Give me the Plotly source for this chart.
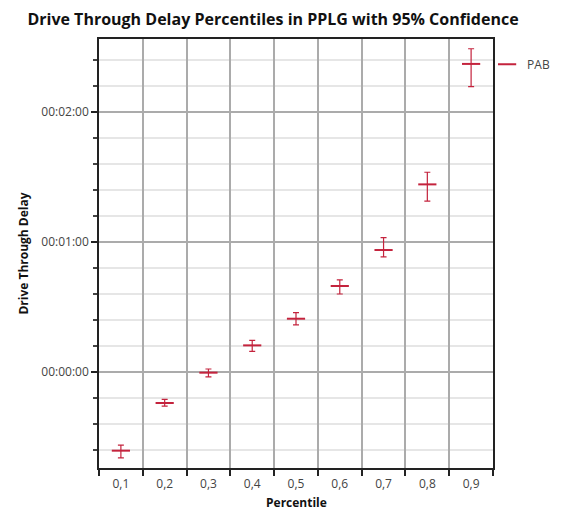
import plotly.graph_objects as go

categories = ["0,1", "0,2", "0,3", "0,4", "0,5", "0,6", "0,7", "0,8", "0,9"]
# delay in seconds (relative)
values = [-36.3, -14.3, -0.3, 12.3, 24.6, 39.7, 56.3, 86.6, 142.2]
upper = [-33.7, -12.6, 1.4, 14.6, 27.4, 42.5, 62.0, 92.2, 149.2]
lower = [-39.6, -15.7, -2.2, 9.5, 21.8, 36.0, 53.1, 78.9, 131.7]
y_tickvals = [0, 60, 120]
y_ticktext = ["00:00:00", "00:01:00", "00:02:00"]

err_plus = [u - v for u, v in zip(upper, values)]
err_minus = [v - l for v, l in zip(values, lower)]

color = "#C4233D"
fig = go.Figure()
fig.add_trace(go.Scatter(
    x=categories, y=values, mode="markers", name="PAB",
    marker=dict(symbol="line-ew", size=13, line=dict(color=color, width=2), color=color),
    error_y=dict(type="data", array=err_plus, arrayminus=err_minus, symmetric=False,
                 color=color, thickness=1.2, width=3),
))

font_family = "Open Sans, Noto Sans, sans-serif"
plot_h = 510 - 39 - 42
fig.update_layout(
    width=566, height=510,
    margin=dict(l=99, r=73, t=39, b=42, autoexpand=False),
    paper_bgcolor="white", plot_bgcolor="white",
    title=dict(text="<b>Drive Through Delay Percentiles in PPLG with 95% Confidence</b>",
               x=273/566, xanchor="center", y=1 - 19/510, yanchor="middle",
               font=dict(family=font_family, size=16, color="#111")),
    font=dict(family=font_family, size=12, color="#444"),
    showlegend=True,
    legend=dict(x=0.985, y=0.975, xanchor="left", yanchor="top", itemwidth=30,
                font=dict(size=12, color="#444"), bgcolor="rgba(0,0,0,0)"),
    xaxis=dict(
        type="category", range=[-0.5, 8.5], tickson="boundaries",
        showgrid=True, gridcolor="#ababab", gridwidth=1.5,
        showline=True, linecolor="#222", linewidth=1.5, mirror=True,
        ticks="outside", ticklen=6, tickcolor="#222", tickwidth=1.5,
        tickfont=dict(size=12, color="#444"), ticklabelstandoff=4,
    ),
    yaxis=dict(
        range=[-44.3, 153.7], tickvals=y_tickvals, ticktext=y_ticktext,
        showgrid=True, gridcolor="#ababab", gridwidth=1.5, zeroline=False,
        showline=True, linecolor="#222", linewidth=1.5, mirror=True,
        ticks="outside", ticklen=6, tickcolor="#222", tickwidth=2,
        tickfont=dict(size=12, color="#444"),
        minor=dict(dtick=12, tick0=0, ticks="outside", ticklen=4, tickcolor="#444",
                   showgrid=True, gridcolor="#e6e6e6", gridwidth=1.5),
        title=dict(text="<b>Drive Through Delay</b>", font=dict(size=12, color="#111"), standoff=10),
    ),
    annotations=[dict(text="<b>Percentile</b>", xref="paper", yref="paper",
                      x=0.5, y=(468 - 502) / plot_h, xanchor="center", yanchor="middle",
                      showarrow=False, font=dict(family=font_family, size=12, color="#111"))],
)

fig.write_html("out.html")
